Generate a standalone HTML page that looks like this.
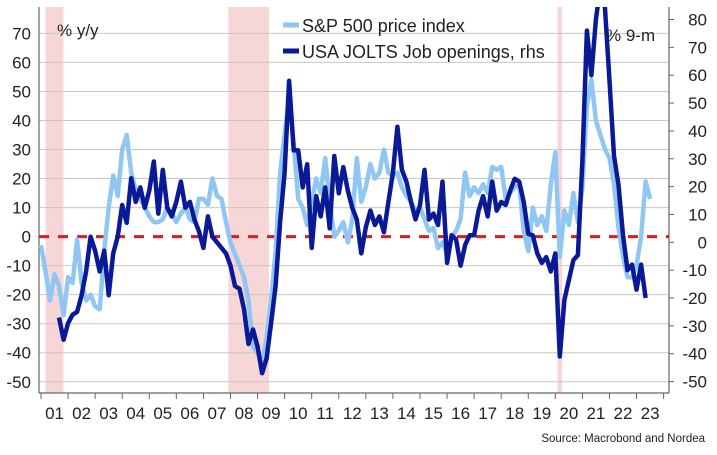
<!DOCTYPE html>
<html><head><meta charset="utf-8">
<style>
html,body{margin:0;padding:0;background:#fff;}
svg{display:block;font-family:"Liberation Sans",sans-serif;}
</style></head>
<body>
<svg id="chart" width="717" height="455" viewBox="0 0 717 455" xmlns="http://www.w3.org/2000/svg">
<defs><clipPath id="plotclip"><rect x="39" y="7" width="630" height="386"/></clipPath></defs>
<g id="recessions"></g>
<g id="grid"></g>
<g id="axes"></g>
<g id="series" clip-path="url(#plotclip)"></g>
<text x="57" y="36" font-size="17" fill="#222">% y/y</text>
<text x="606" y="41" font-size="17" fill="#222">% 9-m</text>
<g>
  <g>
    <line x1="283" y1="25" x2="299" y2="25" stroke="#8fc6f2" stroke-width="5"/>
    <text x="302" y="32" font-size="18" fill="#222">S&amp;P 500 price index</text>
  </g>
  <g>
    <line x1="283" y1="51" x2="299" y2="51" stroke="#0a1a96" stroke-width="5"/>
    <text x="302" y="58" font-size="18" fill="#222">USA JOLTS Job openings, rhs</text>
  </g>
</g>
<text x="705" y="442" font-size="11.5" text-anchor="end" fill="#222">Source: Macrobond and Nordea</text>
</svg>
<script>
const startYear = 2001;
const stepYears = 1/6;
const yearLabels = ["01","02","03","04","05","06","07","08","09","10","11","12","13","14","15","16","17","18","19","20","21","22","23"];
const leftTicks = [70,60,50,40,30,20,10,0,-10,-20,-30,-40,-50];
const rightTicks = [80,70,60,50,40,30,20,10,0,-10,-20,-30,-40,-50];
const recessions = [[2001.17,2001.83],[2007.92,2009.42],[2020.08,2020.25]];
const sp500 = [
-3,-12,-22,-13,-17,-27,
-14,-16,-1,-16,-22,-20,
-24,-25,-5,10,21,14,
30,35,22,16,13,10,
7,5,5,6,10,8,
5,8,10,6,5,13,
13,11,20,14,13,5,
-2,-6,-10,-14,-22,-38,
-40,-44,-35,-22,-5,22,
35,48,32,13,10,4,
12,20,15,27,12,0,
2,5,-2,6,27,12,
17,25,20,22,30,22,
21,22,17,14,12,9,
10,6,2,3,-4,-2,
-6,0,2,6,22,14,
17,15,18,15,24,23,
24,13,15,17,18,2,
-5,10,4,7,2,18,
29,-7,9,4,15,5,
17,45,54,40,35,30,
27,18,3,-7,-14,-14,
-10,0,19,13];
const jolts = [
null,null,null,null,-27,-35,
-29,-26,-25,-19,-10.5,2,
-3,-10.5,-3,-19,-4,2,
13.4,7,23,14.5,19.7,12.4,
18.6,29,10.3,26,12.4,9.3,
14.5,21.8,12.4,14.5,8.2,4,
-2,9.3,2,0,-2,-4,
-8.4,-15.7,-16.7,-24,-36.5,-31.3,
-37.5,-47,-41.7,-29,-15.7,7.2,
25,58,33,33,19.7,28,
-2,16.6,9.3,19.7,5,31,
17.6,27,18.6,12.4,8.2,-4,
5.4,11.4,6.2,9.3,3.6,14.5,
25,41.5,26,21.8,14.5,8.2,
13.4,26,8.2,10.3,6.2,21.8,
-7.4,2.5,1,-8.4,-1,2.5,
2.5,11.4,16.6,9.3,21.8,11.4,
14.5,13.4,18.6,22.8,21.8,14.5,
3,2.5,-4,-7.4,-5.3,-10.5,
-4,-41,-20.7,-13.5,-6.4,-4.6,
29.5,76,60,80,92,84,
58,31,20.6,2.6,-10,-8,
-17,-8,-20];

const NS="http://www.w3.org/2000/svg";
const X0=39, X1=669, YT=7, YB=393;
function x(t){return 41+(t-2001)*27.07;}
function yL(v){return 236.6 - v*2.903;}
function yR(v){return 242.3 - v*2.785;}
function mk(tag,attrs,parent){const e=document.createElementNS(NS,tag);for(const k in attrs)e.setAttribute(k,attrs[k]);parent.appendChild(e);return e;}

const rec=document.getElementById('recessions');
recessions.forEach(r=>{
  const e=mk('rect',{x:x(r[0]),y:YT,width:x(r[1])-x(r[0]),height:YB-YT,fill:'#f6d6d6'},rec);
  
  
});
const grid=document.getElementById('grid');
const axes=document.getElementById('axes');
leftTicks.forEach(v=>{
  if(v!==0){const g=mk('line',{x1:X0,x2:X1,y1:yL(v),y2:yL(v),stroke:'#c8c8c8','stroke-width':1},grid);
  
  }
  const t=mk('text',{x:31,y:yL(v)+6,'font-size':17,'text-anchor':'end',fill:'#222'},axes);
  t.textContent=v;
  
  
});
rightTicks.forEach(v=>{
  mk('line',{x1:X1,x2:X1+5,y1:yR(v),y2:yR(v),stroke:'#666','stroke-width':1},axes);
  const t=mk('text',{x:707,y:yR(v)+6,'font-size':17,'text-anchor':'end',fill:'#222'},axes);
  t.textContent=v;
  
  
});
mk('line',{x1:X0,x2:X0,y1:YT,y2:YB,stroke:'#666','stroke-width':1.2},axes);
mk('line',{x1:X1,x2:X1,y1:YT,y2:YB,stroke:'#666','stroke-width':1.2},axes);
mk('line',{x1:X0,x2:X1,y1:YB,y2:YB,stroke:'#666','stroke-width':1.2},axes);
for(let i=0;i<=yearLabels.length;i++){
  const t0=2001+i;
  mk('line',{x1:x(t0),x2:x(t0),y1:YB,y2:YB+6,stroke:'#666','stroke-width':1},axes);
  if(i<yearLabels.length){
    const t=mk('text',{x:x(t0+0.5),y:419,'font-size':17,'text-anchor':'middle',fill:'#222'},axes);
    t.textContent=yearLabels[i];
    
    
  }
}
const ser=document.getElementById('series');
function path(arr,yf){let d='',pen=false;arr.forEach((v,i)=>{if(v===null){pen=false;return;}const px=x(startYear+i*stepYears),py=yf(v);d+=(pen?'L':'M')+px.toFixed(1)+','+py.toFixed(1);pen=true;});return d;}
const zl=mk('line',{x1:X0,x2:X1,y1:yL(0),y2:yL(0),stroke:'#e8151b','stroke-width':3,'stroke-dasharray':'10 9'},ser);


const p1=mk('path',{d:path(sp500,yL),fill:'none',stroke:'#8fc6f2','stroke-width':4.5,'stroke-linejoin':'round'},ser);


const p2=mk('path',{d:path(jolts,yR),fill:'none',stroke:'#0a1a96','stroke-width':4.5,'stroke-linejoin':'round'},ser);


</script>
</body></html>
